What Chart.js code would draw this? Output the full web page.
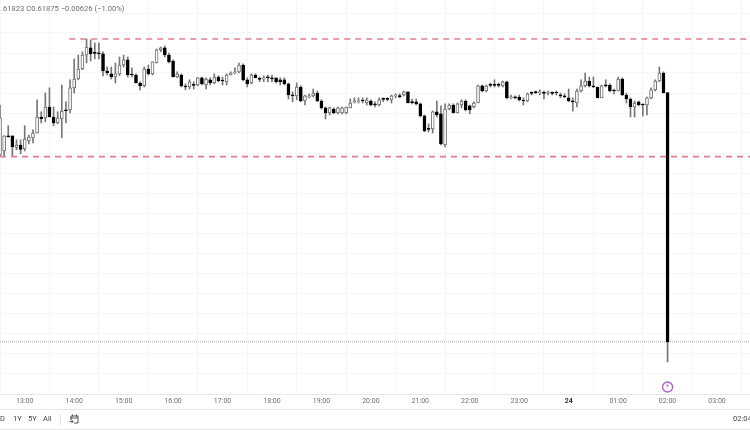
<!DOCTYPE html>
<html>
<head>
<meta charset="utf-8">
<script src="https://cdn.jsdelivr.net/npm/chart.js@4"></script>
<style>
  html, body { margin: 0; padding: 0; background: #fff; overflow: hidden; }
  #page { position: relative; width: 750px; height: 430px; overflow: hidden; filter: blur(0.4px);
          font-family: Roboto, sans-serif; color: #6b6e78; }
  canvas { position: absolute; left: 0; top: 0; }
  .txt { position: absolute; white-space: nowrap; font-size: 7.5px; line-height: 10px; }
  .rule { position: absolute; left: 0; width: 750px; height: 1px; background: #e6e8ee; }
</style>
</head>
<body>
<div id="page">
  <canvas id="chart" width="750" height="430"></canvas>
  <div class="txt" style="left:1px;top:4px;font-size:7.6px;">.61823 C0.61875 &#8722;0.00626 (&#8722;1.00%)</div>
  <div class="rule" style="top:409px"></div>
  <div class="rule" style="top:429px"></div>
  <div class="txt" style="left:0;top:414px;color:#444">D</div>
  <div class="txt" style="left:13px;top:414px;color:#444">1Y</div>
  <div class="txt" style="left:28px;top:414px;color:#444">5Y</div>
  <div class="txt" style="left:43px;top:414px;color:#444">All</div>
  <div style="position:absolute;left:60px;top:414px;width:1px;height:11px;background:#e0e3eb"></div>
  <svg style="position:absolute;left:69px;top:414px" width="10" height="10" viewBox="0 0 10 10" fill="none" stroke="#444" stroke-width="0.9">
    <path d="M2 2H9V9H5M2 2V6M1 4H9M3.5 0.5V2.5M7.5 0.5V2.5M0.5 7.5H4M2.5 6L4.2 7.5L2.5 9"/>
  </svg>
  <div class="txt" style="left:733px;top:414px;color:#444">02:04</div>
</div>
<script>
// all prices in 1e-5 units, candle 0 opens at 12:30 on the 23rd
const CANDLE_MINUTES = 5;
const FIRST_CANDLE = 750;

const opens = [
  62345,62355,62393,62393,62364,62370,62360,62380,62388,62400,
  62440,62438,62465,62440,62425,62435,62458,62458,62513,62535,
  62560,62595,62613,62600,62600,62598,62555,62548,62540,62548,
  62570,62583,62546,62545,62525,62518,62560,62548,62575,62608,
  62613,62595,62580,62540,62545,62516,62515,62520,62520,62538,
  62520,62533,62525,62540,62531,62528,62546,62550,62553,62570,
  62533,62525,62545,62535,62535,62539,62538,62538,62533,62533,
  62523,62494,62493,62515,62480,62490,62493,62500,62480,62463,
  62450,62460,62450,62450,62450,62463,62478,62478,62481,62475,
  62480,62473,62470,62485,62485,62483,62493,62493,62495,62503,
  62478,62478,62473,62443,62410,62410,62453,62448,62370,62460,
  62470,62450,62470,62480,62468,62465,62475,62518,62505,62520,
  62520,62520,62518,62528,62488,62489,62490,62481,62480,62500,
  62503,62500,62500,62500,62500,62501,62495,62493,62488,62480,
  62475,62505,62518,62530,62518,62515,62488,62520,62520,62506,
  62505,62535,62495,62485,62465,62478,62471,62470,62488,62508,
  62530,62550,62501
];
const highs = [
  62470,62393,62418,62393,62383,62383,62418,62395,62408,62483,
  62453,62500,62513,62465,62453,62520,62478,62533,62585,62595,
  62603,62635,62633,62625,62625,62603,62565,62565,62575,62590,
  62595,62590,62563,62548,62528,62565,62570,62578,62610,62615,
  62618,62600,62583,62553,62548,62523,62533,62528,62538,62540,
  62538,62538,62548,62543,62540,62548,62553,62563,62575,62573,
  62538,62548,62548,62540,62543,62545,62545,62538,62538,62538,
  62525,62503,62525,62518,62495,62498,62510,62505,62483,62465,
  62465,62463,62465,62465,62465,62485,62488,62488,62488,62488,
  62483,62478,62488,62488,62488,62495,62498,62498,62505,62503,
  62485,62485,62475,62445,62423,62455,62480,62468,62473,62473,
  62473,62475,62483,62483,62470,62478,62520,62520,62520,62525,
  62533,62525,62530,62530,62495,62493,62495,62488,62500,62503,
  62505,62508,62505,62505,62503,62505,62500,62498,62510,62488,
  62510,62533,62550,62540,62540,62515,62520,62533,62523,62510,
  62540,62538,62500,62488,62480,62480,62473,62490,62513,62533,
  62565,62553,62501
];
const lows = [
  62343,62340,62390,62343,62358,62348,62355,62373,62375,62400,
  62425,62428,62440,62418,62423,62388,62425,62450,62500,62533,
  62558,62575,62580,62585,62585,62543,62545,62535,62525,62543,
  62565,62540,62540,62525,62508,62515,62545,62545,62575,62603,
  62590,62575,62540,62538,62515,62508,62510,62510,62518,62520,
  62510,62520,62523,62528,62520,62520,62545,62548,62550,62530,
  62515,62523,62538,62528,62528,62528,62528,62525,62520,62520,
  62485,62478,62483,62478,62470,62488,62490,62478,62460,62435,
  62445,62448,62448,62448,62448,62463,62475,62475,62475,62470,
  62468,62465,62468,62478,62480,62475,62488,62488,62493,62475,
  62473,62470,62440,62403,62403,62400,62440,62370,62365,62458,
  62450,62450,62463,62455,62448,62463,62475,62503,62503,62515,
  62515,62515,62515,62485,62485,62485,62480,62470,62478,62495,
  62498,62495,62485,62495,62495,62495,62488,62488,62478,62455,
  62465,62503,62515,62515,62513,62488,62488,62515,62503,62498,
  62505,62493,62475,62440,62440,62468,62443,62445,62485,62505,
  62528,62500,61828
];
const closes = [
  62438,62393,62390,62365,62370,62359,62385,62390,62400,62440,
  62436,62465,62440,62425,62438,62455,62455,62513,62535,62560,
  62595,62615,62598,62599,62598,62555,62550,62540,62548,62570,
  62583,62545,62545,62525,62518,62560,62548,62578,62608,62613,
  62595,62578,62540,62548,62518,62515,62528,62519,62538,62523,
  62535,62525,62540,62530,62530,62545,62550,62553,62570,62533,
  62523,62545,62538,62534,62538,62538,62535,62528,62528,62523,
  62495,62493,62515,62480,62493,62493,62500,62480,62463,62450,
  62463,62450,62463,62463,62465,62475,62481,62480,62480,62483,
  62470,62470,62483,62484,62484,62493,62495,62491,62503,62475,
  62476,62473,62443,62405,62409,62453,62445,62373,62460,62470,
  62450,62473,62480,62458,62458,62475,62518,62505,62518,62519,
  62519,62519,62528,62488,62490,62488,62483,62480,62498,62499,
  62501,62503,62499,62501,62499,62500,62493,62490,62480,62478,
  62505,62518,62530,62518,62515,62488,62518,62518,62505,62505,
  62535,62495,62485,62465,62475,62470,62470,62488,62508,62530,
  62550,62500,61878
];

const HOUR_TICKS = [780, 840, 900, 960, 1020, 1080, 1140, 1200, 1260, 1320, 1380, 1440, 1500, 1560, 1620];
const HOUR_LABELS = ["13:00", "14:00", "15:00", "16:00", "17:00", "18:00", "19:00", "20:00", "21:00", "22:00", "23:00", "24", "01:00", "02:00", "03:00"];
const PRICE_GRID = [62700, 62650, 62600, 62550, 62500, 62450, 62400, 62350, 62300, 62250, 62200, 62150, 62100, 62050, 62000, 61950, 61900, 61850, 61800];

const X_MIN = 750, X_MAX = 1660;
const Y_MIN = 61747.5, Y_MAX = 62732.5;

const RESISTANCE = [{ x: 834, y: 62635 }, { x: X_MAX, y: 62635 }];
const SUPPORT = [{ x: X_MIN, y: 62341 }, { x: X_MAX, y: 62341 }];
const LAST_PRICE = [{ x: X_MIN, y: 61878 }, { x: X_MAX, y: 61878 }];
const EVENT_MARK = [{ x: 1560, y: 61765 }];

const times = opens.map((_, i) => FIRST_CANDLE + i * CANDLE_MINUTES);
const isUp = opens.map((o, i) => closes[i] >= o);
const isMidnight = c => c.tick && c.tick.value === 1440;

const eventGlyph = {
  id: "eventGlyph",
  afterDatasetsDraw(chart) {
    const { ctx, scales } = chart;
    ctx.save();
    ctx.font = "bold 8px 'DejaVu Sans'";
    ctx.fillStyle = "#b25ccb";
    ctx.textAlign = "center";
    ctx.textBaseline = "middle";
    ctx.fillText("\u26A1", scales.x.getPixelForValue(EVENT_MARK[0].x), scales.y.getPixelForValue(EVENT_MARK[0].y));
    ctx.restore();
  }
};

new Chart(document.getElementById("chart"), {
  data: {
    datasets: [
      {
        type: "scatter",
        data: EVENT_MARK,
        order: 0,
        pointRadius: 5,
        pointBackgroundColor: "#fff",
        pointBorderColor: "#b25ccb",
        pointBorderWidth: 1.3
      },
      {
        type: "line",
        data: RESISTANCE,
        order: 1,
        borderColor: "#e27d90",
        borderWidth: 1.6,
        borderDash: [6, 5],
        pointRadius: 0
      },
      {
        type: "line",
        data: SUPPORT,
        order: 1,
        borderColor: "#e27d90",
        borderWidth: 1.6,
        borderDash: [6, 5],
        pointRadius: 0
      },
      {
        type: "bar",
        data: times.map((t, i) => ({ x: t, y: [opens[i], closes[i]] })),
        order: 2,
        grouped: false,
        barThickness: 3,
        minBarLength: 1,
        borderSkipped: false,
        borderWidth: 1,
        borderColor: isUp.map(u => u ? "#6e6e6e" : "#000"),
        backgroundColor: isUp.map(u => u ? "#fff" : "#000")
      },
      {
        type: "bar",
        data: times.map((t, i) => ({ x: t, y: [lows[i], highs[i]] })),
        order: 3,
        grouped: false,
        barThickness: 1,
        backgroundColor: "#777"
      },
      {
        type: "line",
        data: LAST_PRICE,
        order: 4,
        borderColor: "#a8a8a8",
        borderWidth: 1,
        borderDash: [1, 1],
        pointRadius: 0
      }
    ]
  },
  options: {
    responsive: false,
    animation: false,
    layout: { padding: 0, autoPadding: false },
    plugins: { legend: { display: false }, tooltip: { enabled: false } },
    scales: {
      x: {
        type: "linear",
        offset: false,
        min: X_MIN,
        max: X_MAX,
        afterBuildTicks: s => { s.ticks = HOUR_TICKS.map(value => ({ value })); },
        afterFit: s => { s.height = 36; s.paddingLeft = 0; s.paddingRight = 0; },
        border: { color: "#e6e8ee" },
        grid: { color: "#f5f6f8", tickLength: 0 },
        ticks: {
          autoSkip: false,
          maxRotation: 0,
          padding: 3,
          callback: v => HOUR_LABELS[HOUR_TICKS.indexOf(v)],
          color: c => isMidnight(c) ? "#333" : "#6b6e78",
          font: c => ({ family: "Roboto", size: 7, weight: isMidnight(c) ? "bold" : "normal" })
        }
      },
      y: {
        min: Y_MIN,
        max: Y_MAX,
        afterBuildTicks: s => { s.ticks = PRICE_GRID.map(value => ({ value })); },
        afterFit: s => { s.width = 0; s.paddingTop = 0; s.paddingBottom = 0; },
        border: { display: false },
        grid: { color: "#f5f6f8", tickLength: 0 },
        ticks: { display: false }
      }
    }
  },
  plugins: [eventGlyph]
});
</script>
</body>
</html>
